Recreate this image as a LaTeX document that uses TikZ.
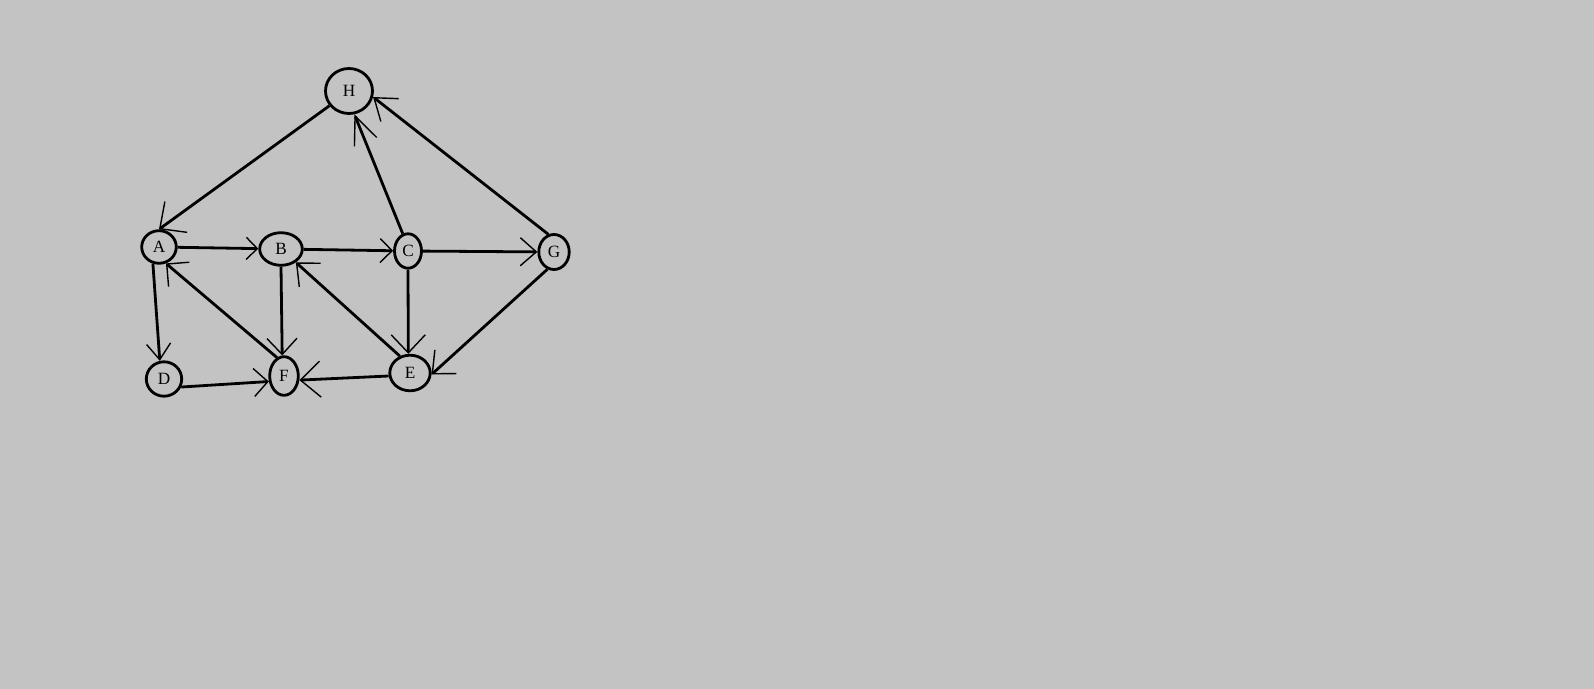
\documentclass[tikz,border=0pt]{standalone}
\usepackage{fontspec}
\setmainfont{Liberation Serif}
\usetikzlibrary{shapes.geometric,arrows.meta}
\definecolor{bg}{RGB}{195,195,195}
\begin{document}
\begin{tikzpicture}[x=0.5pt,y=-0.5pt,
  vtx/.style={ellipse, draw=black, line width=1.4pt, fill=bg, inner sep=0pt,
    font=\fontsize{8.6}{10}\selectfont},
  edge/.style={line width=1.4pt, draw=black},
  tip/.style 2 args={-{Straight Barb[length=#1,width=#2,line width=0.7pt]}},
  tip/.default={9pt}{16pt}
]
\fill[bg] (0,0) rectangle (1594,689);
\useasboundingbox (0,0) rectangle (1594,689);

\node[vtx, minimum width=23.5pt, minimum height=22.5pt] (H) at (349,91) {H};
\node[vtx, minimum width=17.3pt, minimum height=16.3pt] (A) at (159,247) {A};
\node[vtx, minimum width=21.3pt, minimum height=16.3pt] (B) at (281,249) {B};
\node[vtx, minimum width=13.5pt, minimum height=17.2pt] (C) at (408,251) {C};
\node[vtx, minimum width=15.2pt, minimum height=17.5pt] (G) at (554,252) {G};
\node[vtx, minimum width=17.7pt, minimum height=17.2pt] (D) at (164,379) {D};
\node[vtx, minimum width=14.3pt, minimum height=19.3pt] (F) at (284,376) {F};
\node[vtx, minimum width=20.2pt, minimum height=17.8pt] (E) at (410,373) {E};

\draw[edge, tip={10pt}{19pt}] (H.217) -- (A.90);
\draw[edge, tip={5.5pt}{11pt}] (A) -- (B);
\draw[edge, tip={6pt}{12pt}] (B) -- (C);
\draw[edge, tip={8pt}{14pt}] (C) -- (G);
\draw[edge, tip={14pt}{12pt}] (C.107) -- (H.283);
\draw[edge, tip={10pt}{14.5pt}] (G.108) -- (H.346);
\draw[edge, tip={8pt}{12pt}] (A.250) -- (D.103);
\draw[edge, tip={7pt}{14pt}] (D.335) -- (F.200);
\draw[edge, tip={8pt}{16pt}] (F.111) -- (A.293);
\draw[edge, tip={8pt}{15pt}] (B.south) -- (F.95);
\draw[edge, tip={9pt}{16pt}] (E.121) -- (B.318);
\draw[edge, tip={9pt}{17pt}] (C.south) -- (E.95);
\draw[edge, tip={9pt}{16pt}] (G.249) -- (E.356);
\draw[edge, tip={10pt}{18pt}] (E.188) -- (F.345);
\end{tikzpicture}
\end{document}
